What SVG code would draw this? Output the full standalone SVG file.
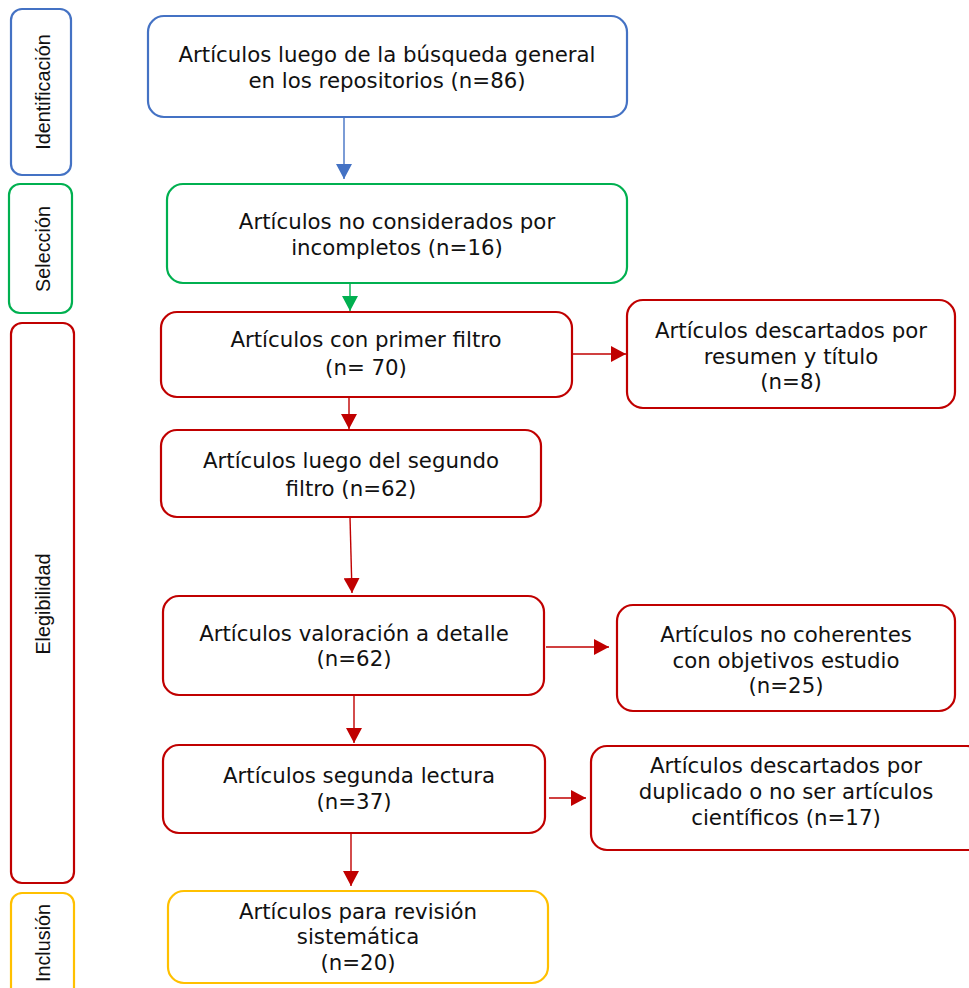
<svg xmlns="http://www.w3.org/2000/svg" width="969" height="988" viewBox="0 0 969 988">
<defs>
<style>
.box{fill:#fff;stroke-width:2.2}
.blue{stroke:#4472C4}
.green{stroke:#00B050}
.red{stroke:#C00000}
.yellow{stroke:#FFC000}
.t{font-family:"DejaVu Sans",Verdana,sans-serif;font-size:21.3px;fill:#111;text-anchor:middle}
.lab{font-family:"Liberation Sans",Arial,sans-serif;font-size:19.8px;fill:#111;text-anchor:middle}
.c{fill:none;stroke-width:1.4}
</style>
<marker id="ab" markerUnits="userSpaceOnUse" markerWidth="16" markerHeight="16" refX="15" refY="8" orient="auto" viewBox="0 0 16 16"><path d="M0,0 L15,8 L0,16 z" fill="#4472C4"/></marker>
<marker id="ag" markerUnits="userSpaceOnUse" markerWidth="16" markerHeight="16" refX="15" refY="8" orient="auto" viewBox="0 0 16 16"><path d="M0,0 L15,8 L0,16 z" fill="#00B050"/></marker>
<marker id="ar" markerUnits="userSpaceOnUse" markerWidth="16" markerHeight="16" refX="15" refY="8" orient="auto" viewBox="0 0 16 16"><path d="M0,0 L15,8 L0,16 z" fill="#C00000"/></marker>
</defs>
<rect width="969" height="988" fill="#fff"/>

<g id="phase-identificacion">
<rect class="box blue" x="11" y="9" width="60" height="166" rx="11"/>
<text class="lab" transform="translate(50,92) rotate(-90)">Identificación</text>
</g>
<g id="phase-seleccion">
<rect class="box green" x="9" y="184" width="63" height="129" rx="11"/>
<text class="lab" transform="translate(50,249) rotate(-90)">Selección</text>
</g>
<g id="phase-elegibilidad">
<rect class="box red" x="11" y="323" width="63" height="560" rx="11"/>
<text class="lab" transform="translate(50,604) rotate(-90)">Elegibilidad</text>
</g>
<g id="phase-inclusion">
<rect class="box yellow" x="11" y="893" width="63" height="110" rx="11"/>
<text class="lab" transform="translate(50,943) rotate(-90)">Inclusión</text>
</g>

<g id="connectors">
<path class="c" stroke="#4472C4" d="M344,117 L344,179" marker-end="url(#ab)"/>
<path class="c" stroke="#00B050" d="M350,284 L350,311" marker-end="url(#ag)"/>
<path class="c" stroke="#C00000" d="M572,354 L626,354" marker-end="url(#ar)"/>
<path class="c" stroke="#C00000" d="M349,397 L349,429" marker-end="url(#ar)"/>
<path class="c" stroke="#C00000" d="M350,517 L352,593" marker-end="url(#ar)"/>
<path class="c" stroke="#C00000" d="M546,647 L609,647" marker-end="url(#ar)"/>
<path class="c" stroke="#C00000" d="M354,696 L354,743" marker-end="url(#ar)"/>
<path class="c" stroke="#C00000" d="M549,798 L586,798" marker-end="url(#ar)"/>
<path class="c" stroke="#C00000" d="M351,833 L351,886" marker-end="url(#ar)"/>
</g>

<g id="n1">
<rect class="box blue" x="148" y="16" width="479" height="101" rx="16"/>
<text class="t" x="387" y="62">Artículos luego de la búsqueda general</text>
<text class="t" x="387" y="88">en los repositorios (n=86)</text>
</g>
<g id="n2">
<rect class="box green" x="167" y="184" width="460" height="99" rx="16"/>
<text class="t" x="397" y="229">Artículos no considerados por</text>
<text class="t" x="397" y="255">incompletos (n=16)</text>
</g>
<g id="n3">
<rect class="box red" x="161" y="312" width="411" height="85" rx="16"/>
<text class="t" x="366" y="347">Artículos con primer filtro</text>
<text class="t" x="366" y="375">(n= 70)</text>
</g>
<g id="n4">
<rect class="box red" x="627" y="300" width="328" height="108" rx="16"/>
<text class="t" x="791" y="338">Artículos descartados por</text>
<text class="t" x="791" y="364">resumen y título</text>
<text class="t" x="791" y="389">(n=8)</text>
</g>
<g id="n5">
<rect class="box red" x="161" y="430" width="380" height="87" rx="16"/>
<text class="t" x="351" y="468">Artículos luego del segundo</text>
<text class="t" x="351" y="496">filtro (n=62)</text>
</g>
<g id="n6">
<rect class="box red" x="163" y="596" width="381" height="99" rx="16"/>
<text class="t" x="354" y="641">Artículos valoración a detalle</text>
<text class="t" x="354" y="666">(n=62)</text>
</g>
<g id="n7">
<rect class="box red" x="617" y="605" width="338" height="106" rx="16"/>
<text class="t" x="786" y="642">Artículos no coherentes</text>
<text class="t" x="786" y="668">con objetivos estudio</text>
<text class="t" x="786" y="693">(n=25)</text>
</g>
<g id="n8">
<rect class="box red" x="163" y="745" width="382" height="88" rx="16"/>
<text class="t" x="359" y="783">Artículos segunda lectura</text>
<text class="t" x="354" y="809">(n=37)</text>
</g>
<g id="n9">
<rect class="box red" x="591" y="746" width="392" height="104" rx="16"/>
<text class="t" x="786" y="773">Artículos descartados por</text>
<text class="t" x="786" y="799">duplicado o no ser artículos</text>
<text class="t" x="786" y="825">científicos (n=17)</text>
</g>
<g id="n10">
<rect class="box yellow" x="168" y="891" width="380" height="92" rx="16"/>
<text class="t" x="358" y="919">Artículos para revisión</text>
<text class="t" x="358" y="944">sistemática</text>
<text class="t" x="358" y="970">(n=20)</text>
</g>
</svg>
